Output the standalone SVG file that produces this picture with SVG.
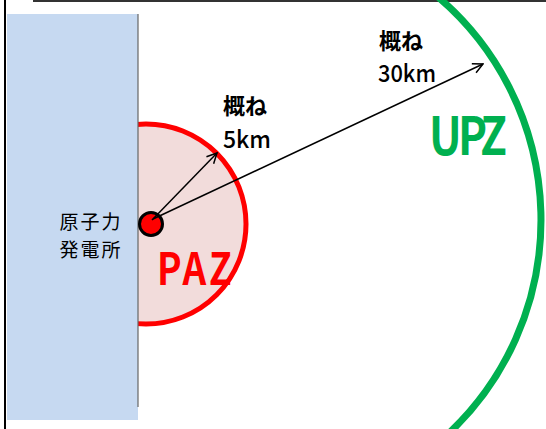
<svg xmlns="http://www.w3.org/2000/svg" width="546" height="429" viewBox="0 0 546 429">
<defs>
<style>
.jp{font-family:"Noto Sans CJK JP","Noto Sans",sans-serif;fill:#000}
.lbl{font-size:22px;font-weight:bold}
.dist{font-size:24px;font-weight:500}
.zone{font-family:"Noto Sans CJK JP","Noto Sans",sans-serif;font-weight:bold}
.arrow{stroke:#000;stroke-width:1.5;fill:none;marker-end:url(#ah)}
</style>
<marker id="ah" viewBox="0 0 12 12" refX="11" refY="6" markerWidth="12" markerHeight="12" markerUnits="userSpaceOnUse" orient="auto">
<path d="M1,1 L11,6 L1,11" fill="none" stroke="#000" stroke-width="1.5"/>
</marker>
</defs>
<rect width="546" height="429" fill="#fff"/>
<g id="frame">
<line x1="5" y1="0" x2="5" y2="429" stroke="#000" stroke-width="2"/>
<line x1="33" y1="1" x2="546" y2="1" stroke="#333" stroke-width="2"/>
<line x1="231" y1="0" x2="231" y2="2" stroke="#333" stroke-width="1.5"/>
</g>
<g id="paz">
<circle cx="146" cy="224" r="100" fill="#F2DCDB" stroke="#FF0000" stroke-width="5"/>
<text class="zone" transform="translate(157,285) scale(0.84,1)" x="0" y="0" font-size="44" fill="#FF0000" textLength="89" lengthAdjust="spacing">PAZ</text>
</g>
<g id="plant">
<rect x="7" y="14" width="131" height="406" fill="#C6D9F1"/>
<line x1="138" y1="14" x2="138" y2="407" stroke="#666" stroke-width="1.2"/>
<text class="jp" font-size="19" text-anchor="middle" letter-spacing="2"><tspan x="91" y="228.5">原子力</tspan><tspan x="91" y="256.5">発電所</tspan></text>
</g>
<g id="upz">
<path d="M435.7,-5 A293,293 0 0 1 447,435" fill="none" stroke="#00B050" stroke-width="7"/>
<text class="zone" transform="translate(429,155) scale(0.84,1)" x="0" y="0" font-size="52" fill="#00B050" textLength="93" lengthAdjust="spacing">UPZ</text>
</g>
<g id="source">
<circle cx="151" cy="224" r="11.5" fill="#FF0000" stroke="#000" stroke-width="3"/>
</g>
<g id="connectors">
<line class="arrow" x1="152" y1="220" x2="217" y2="153"/>
<line class="arrow" x1="153" y1="219" x2="483" y2="64"/>
</g>
<g id="label5">
<text class="jp lbl" x="223" y="114">概ね</text>
<text class="jp dist" x="223" y="148" textLength="48" lengthAdjust="spacingAndGlyphs">5km</text>
</g>
<g id="label30">
<text class="jp lbl" x="379" y="49">概ね</text>
<text class="jp dist" x="378" y="82" textLength="58" lengthAdjust="spacingAndGlyphs">30km</text>
</g>
</svg>
